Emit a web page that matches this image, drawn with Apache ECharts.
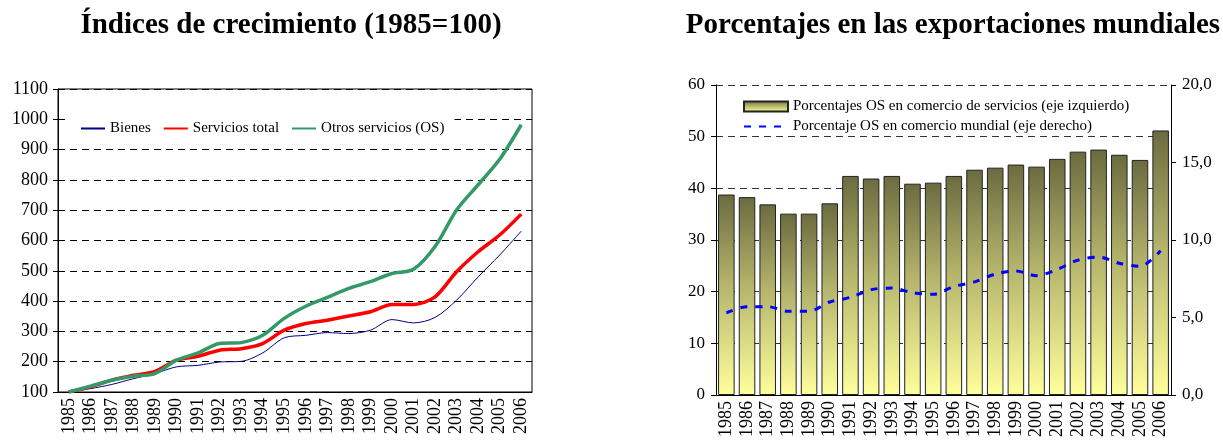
<!DOCTYPE html>
<html><head><meta charset="utf-8">
<script src="https://cdn.jsdelivr.net/npm/echarts@6/dist/echarts.min.js"></script>
<style>html,body{margin:0;padding:0;background:#fff}#c{width:1223px;height:446px}</style>
</head><body><div id="c"></div>
<script>
const years = ['1985','1986','1987','1988','1989','1990','1991','1992','1993','1994','1995','1996','1997','1998','1999','2000','2001','2002','2003','2004','2005','2006'];
const bienes = [100,111,125,144,161,183,188,199,201,229,279,287,296,293,304,339,328,346,403,480,552,631];
const serviciosTotal = [100,117,139,155,168,205,218,238,243,260,304,326,337,351,365,389,389,414,497,563,618,687];
const otrosServicios = [100,119,139,152,161,205,229,260,263,287,343,383,412,442,464,491,505,580,701,784,868,982];
const osEnServicios = [38.8,38.3,36.9,35.1,35.1,37.1,42.4,41.9,42.4,40.9,41.1,42.4,43.6,44.0,44.6,44.2,45.7,47.1,47.5,46.5,45.5,51.2];
const osEnMundial = [5.3,5.7,5.7,5.4,5.4,6.0,6.3,6.8,6.9,6.6,6.5,7.0,7.3,7.8,8.0,7.7,8.1,8.7,8.9,8.5,8.3,9.3];

const FONT = 'Liberation Serif';
const chart = echarts.init(document.getElementById('c'));
const xLabel = {rotate: 90, fontFamily: FONT, fontSize: 18, color: '#000', margin: 6, interval: 0};
const dash = {color: '#000', width: 1, type: [7, 5]};
const hideSym = {opacity: 0};

chart.setOption({
  animation: false,
  backgroundColor: '#fff',
  title: [
    {text: 'Índices de crecimiento (1985=100)', left: 286, top: 6, textAlign: 'center',
     textStyle: {fontFamily: FONT, fontSize: 29, fontWeight: 'bold', color: '#000'}},
    {text: 'Porcentajes en las exportaciones mundiales', left: 948, top: 6, textAlign: 'center',
     textStyle: {fontFamily: FONT, fontSize: 29, fontWeight: 'bold', color: '#000'}}
  ],
  legend: [
    {left: 70, top: 114, backgroundColor: '#fff', padding: [7, 10], itemGap: 12, itemWidth: 24, itemHeight: 12,
     textStyle: {fontFamily: FONT, fontSize: 15, color: '#000'},
     data: [{name: 'Bienes', itemStyle: hideSym},
            {name: 'Servicios total', itemStyle: hideSym},
            {name: 'Otros servicios (OS)', itemStyle: hideSym}]},
    {left: 738, top: 94, orient: 'vertical', itemGap: 5, itemWidth: 44, itemHeight: 10,
     textStyle: {fontFamily: FONT, fontSize: 15, color: '#000'},
     data: [{name: 'Porcentajes OS en comercio de servicios (eje izquierdo)', icon: 'rect'},
            {name: 'Porcentaje OS en comercio mundial (eje derecho)', itemStyle: hideSym}]}
  ],
  grid: [
    {left: 58, right: 691, top: 89, bottom: 54, show: true, borderColor: '#000', borderWidth: 1, backgroundColor: 'transparent'},
    {left: 716, right: 52, top: 85, bottom: 51}
  ],
  xAxis: [
    {type: 'category', gridIndex: 0, data: years, boundaryGap: true,
     axisLine: {lineStyle: {color: '#000'}}, axisTick: {length: 5, lineStyle: {color: '#000'}}, axisLabel: xLabel},
    {type: 'category', gridIndex: 1, data: years, boundaryGap: true,
     axisLine: {lineStyle: {color: '#000'}}, axisTick: {length: 5, lineStyle: {color: '#000'}}, axisLabel: xLabel}
  ],
  yAxis: [
    {type: 'value', gridIndex: 0, min: 100, max: 1100, interval: 100,
     axisLine: {show: true, lineStyle: {color: '#000'}}, axisTick: {show: true, length: 5, lineStyle: {color: '#000'}},
     axisLabel: {fontFamily: FONT, fontSize: 18, color: '#000', margin: 10, formatter: v => String(v)},
     splitLine: {show: true, lineStyle: dash}},
    {type: 'value', gridIndex: 1, min: 0, max: 60, interval: 10,
     axisLine: {show: true, lineStyle: {color: '#000'}}, axisTick: {show: true, length: 5, lineStyle: {color: '#000'}},
     axisLabel: {fontFamily: FONT, fontSize: 17, color: '#000', margin: 11},
     splitLine: {show: true, lineStyle: {color: '#333', width: 1, type: [7, 5]}}},
    {type: 'value', gridIndex: 1, position: 'right', min: 0, max: 20, interval: 5,
     axisLine: {show: true, lineStyle: {color: '#000'}}, axisTick: {show: true, length: 5, lineStyle: {color: '#000'}},
     axisLabel: {fontFamily: FONT, fontSize: 17, color: '#000', margin: 11, formatter: v => v.toFixed(1).replace('.', ',')},
     splitLine: {show: false}}
  ],
  series: [
    {name: 'Bienes', type: 'line', xAxisIndex: 0, yAxisIndex: 0, data: bienes, smooth: 0.3, symbol: 'none',
     lineStyle: {color: '#000080', width: 1}, itemStyle: {color: '#000080'}, z: 3},
    {name: 'Servicios total', type: 'line', xAxisIndex: 0, yAxisIndex: 0, data: serviciosTotal, smooth: 0.3, symbol: 'none',
     lineStyle: {color: '#FF0000', width: 3.5}, itemStyle: {color: '#FF0000'}, z: 4},
    {name: 'Otros servicios (OS)', type: 'line', xAxisIndex: 0, yAxisIndex: 0, data: otrosServicios, smooth: 0.3, symbol: 'none',
     lineStyle: {color: '#339966', width: 3.5}, itemStyle: {color: '#339966'}, z: 5},
    {name: 'Porcentajes OS en comercio de servicios (eje izquierdo)', type: 'bar', xAxisIndex: 1, yAxisIndex: 1,
     data: osEnServicios, barCategoryGap: '20%',
     itemStyle: {borderColor: '#222', borderWidth: 1,
       color: new echarts.graphic.LinearGradient(0, 0, 0, 1, [{offset: 0, color: '#6B6B40'}, {offset: 0.45, color: '#B5B56C'}, {offset: 1, color: '#FFFF9C'}])}},
    {name: 'Porcentaje OS en comercio mundial (eje derecho)', type: 'line', xAxisIndex: 1, yAxisIndex: 2,
     data: osEnMundial, smooth: 0.3, symbol: 'none', z: 5,
     lineStyle: {color: '#0000FF', width: 3, type: [7, 8]}, itemStyle: {color: '#0000FF'}}
  ]
});
</script>
</body></html>
